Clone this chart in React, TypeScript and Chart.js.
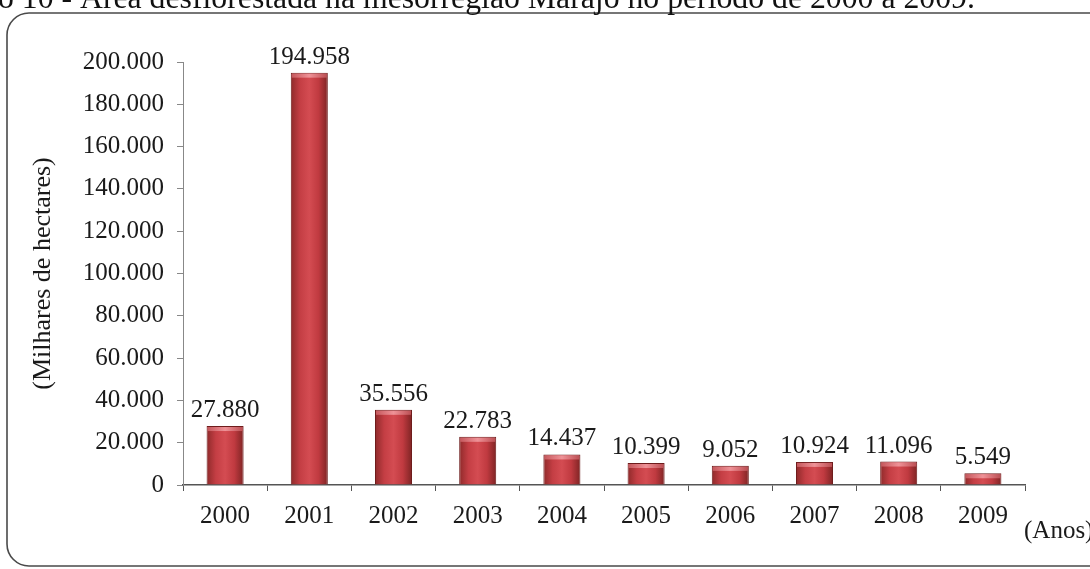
import { useEffect, useRef } from 'react';
import { Chart, registerables } from 'chart.js';

Chart.register(...registerables);

const years = ['2000', '2001', '2002', '2003', '2004', '2005', '2006', '2007', '2008', '2009'];
const areas = [27880, 194958, 35556, 22783, 14437, 10399, 9052, 10924, 11096, 5549];
const yMax = 200000;
const yStep = 20000;
const chartTitleLead = 'Gráfico 10 - ';
const chartTitleMain = 'Área desflorestada na mesorregião Marajó no período de 2000 a 2009.';
const yTitle = '(Milhares de hectares)';
const xTitle = '(Anos)';

function fmt(v: number): string {
  return String(Math.round(v)).replace(/\B(?=(\d{3})+(?!\d))/g, '.');
}

const TXT_FONT = '"Liberation Serif", "Times New Roman", serif';

const framePlugin = {
  id: 'frame',
  beforeDraw(chart: any) {
    const ctx = chart.ctx as CanvasRenderingContext2D;
    ctx.save();
    ctx.fillStyle = '#ffffff';
    ctx.fillRect(0, 0, chart.width, chart.height);
    // rounded frame
    const l = 7, t = 13, b = 566, r = 22;
    ctx.beginPath();
    ctx.moveTo(chart.width + 10, t);
    ctx.lineTo(l + r, t);
    ctx.arcTo(l, t, l, t + r, r);
    ctx.lineTo(l, b - r);
    ctx.arcTo(l, b, l + r, b, r);
    ctx.lineTo(chart.width + 10, b);
    ctx.strokeStyle = '#4a4a4a';
    ctx.lineWidth = 1.6;
    ctx.stroke();
    // title (cut at the top edge)
    let size = 26;
    ctx.font = `${size}px ${TXT_FONT}`;
    const w = ctx.measureText(chartTitleMain).width;
    size = (size * 895) / w;
    ctx.font = `${size}px ${TXT_FONT}`;
    const leadW = ctx.measureText(chartTitleLead).width;
    ctx.fillStyle = '#111';
    ctx.textBaseline = 'alphabetic';
    ctx.textAlign = 'left';
    ctx.fillText(chartTitleLead + chartTitleMain, 80 - leadW, 8);
    ctx.restore();
  },
  afterDatasetsDraw(chart: any) {
    const ctx = chart.ctx as CanvasRenderingContext2D;
    const meta = chart.getDatasetMeta(0);
    ctx.save();
    // light cap on top of each bar
    meta.data.forEach((el: any) => {
      const w = el.width;
      const g = ctx.createLinearGradient(el.x - w / 2, 0, el.x + w / 2, 0);
      g.addColorStop(0, 'rgba(200,90,95,0.9)');
      g.addColorStop(0.5, 'rgba(240,150,155,0.95)');
      g.addColorStop(1, 'rgba(190,80,85,0.9)');
      ctx.fillStyle = g;
      ctx.fillRect(el.x - w / 2 + 1, el.y + 1, w - 2, 4);
    });
    ctx.font = `25px ${TXT_FONT}`;
    ctx.fillStyle = '#1a1a1a';
    ctx.textAlign = 'center';
    ctx.textBaseline = 'alphabetic';
    meta.data.forEach((el: any, i: number) => {
      ctx.fillText(fmt(areas[i]), el.x, el.y - 9);
    });
    // x-axis name
    ctx.textAlign = 'left';
    ctx.textBaseline = 'middle';
    ctx.fillText(xTitle, chart.chartArea.right - 1, 531);
    ctx.restore();
  },
};

function barFill(c: any) {
  const chart = c.chart;
  const xs = chart.scales?.x;
  if (!chart.chartArea || !xs) return '#c43c42';
  const x = xs.getPixelForValue(c.dataIndex);
  const w = (xs.width / years.length) * 0.44;
  const g = chart.ctx.createLinearGradient(x - w / 2, 0, x + w / 2, 0);
  g.addColorStop(0, '#8e2a2a');
  g.addColorStop(0.25, '#c43e44');
  g.addColorStop(0.5, '#d44c52');
  g.addColorStop(0.75, '#c03a40');
  g.addColorStop(1, '#7e2424');
  return g;
}

export default function App() {
  const ref = useRef<HTMLCanvasElement | null>(null);

  useEffect(() => {
    if (!ref.current) return;
    const chart = new Chart(ref.current, {
      type: 'bar',
      data: {
        labels: years,
        datasets: [
          {
            data: areas,
            backgroundColor: barFill,
            borderColor: '#6e1c1c',
            borderWidth: 1,
            categoryPercentage: 1,
            barPercentage: 0.44,
          },
        ],
      },
      options: {
        animation: false,
        responsive: true,
        maintainAspectRatio: false,
        layout: { padding: { top: 62, right: 65, bottom: 0, left: 0 } },
        plugins: {
          legend: { display: false },
          tooltip: { enabled: false },
          title: { display: false },
        },
        scales: {
          x: {
            offset: true,
            grid: {
              offset: true,
              drawOnChartArea: false,
              drawTicks: true,
              tickLength: 6,
              color: '#555',
            },
            border: { display: true, color: '#555', width: 1.5 },
            ticks: {
              color: '#1a1a1a',
              font: { family: TXT_FONT, size: 25 },
              padding: 10,
              maxRotation: 0,
            },
            afterFit: (s: any) => {
              s.height = 84;
            },
          },
          y: {
            min: 0,
            max: yMax,
            ticks: {
              stepSize: yStep,
              color: '#1a1a1a',
              font: { family: TXT_FONT, size: 25 },
              padding: 13,
              callback: (v: any) => fmt(Number(v)),
            },
            grid: {
              drawOnChartArea: false,
              drawTicks: true,
              tickLength: 6,
              color: '#888',
            },
            border: { display: true, color: '#888', width: 1 },
            title: {
              display: true,
              text: yTitle,
              color: '#1a1a1a',
              font: { family: TXT_FONT, size: 26 },
              padding: { top: 28, bottom: 0 },
            },
            afterFit: (s: any) => {
              s.width = 183;
            },
          },
        },
      },
      plugins: [framePlugin],
    });
    return () => chart.destroy();
  }, []);

  return (
    <div style={{ position: 'fixed', left: 0, top: 0, width: 1090, height: 569, background: '#fff' }}>
      <canvas ref={ref} />
    </div>
  );
}
